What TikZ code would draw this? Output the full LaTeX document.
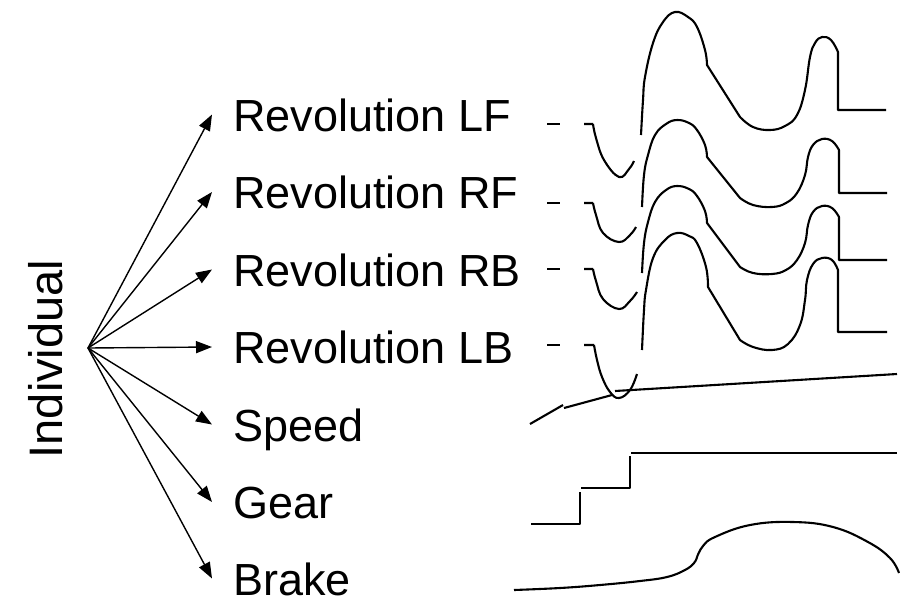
\documentclass[tikz,border=0pt]{standalone}
\usepackage{fontspec}
\setmainfont{Liberation Sans}
\usetikzlibrary{arrows.meta}
\begin{document}
\begin{tikzpicture}[x=1pt,y=-1pt,
  label/.style={anchor=base west,inner sep=0pt,outer xsep=21pt,
    text height=33pt,text depth=0pt,font=\fontsize{45}{50}\selectfont},
  arr/.style={line width=1.4pt,-{Triangle[length=16pt,width=12pt]}},
  sig/.style={line width=2.1pt,line join=round}]
\useasboundingbox (0,0) rectangle (907,598);

% vertical title and fan of arrows
\node[rotate=90,inner sep=0pt,font=\fontsize{47}{50}\selectfont] (ind) at (46,359) {Individual};
\coordinate (src) at (88,348);

\node[label] (lf) at (212,131) {Revolution LF};
\node[label] (rf) at (212,208.5) {Revolution RF};
\node[label] (rb) at (212,286) {Revolution RB};
\node[label] (lb) at (212,363.5) {Revolution LB};
\node[label] (sp) at (212,441) {Speed};
\node[label] (ge) at (212,518.5) {Gear};
\node[label] (br) at (212,595) {Brake};

\foreach \n in {lf,rf,rb,lb,sp,ge,br}
  \draw[arr] (src) -- (\n.west);

% revolution LF
\draw[sig] (547,124) -- (560,124);
\draw[sig] (584,124) -- (593,124) plot[smooth,tension=0.7] coordinates
  {(593,124) (596,138) (604,160) (619,177) (629,169) (634,161)};
\draw[sig] plot[smooth,tension=0.7] coordinates
  {(641,135) (643,100) (645,77) (653,43) (663,22) (675,12) (688,17) (697,27) (705,50) (707,65)}
  -- plot[smooth,tension=0.7] coordinates
  {(740,117) (753,127) (770,130) (785,126) (797,115) (805,90) (810,57) (815,43) (822,37) (831,40) (838,52)}
  -- (838,110) -- (886,110);

% revolution RF
\draw[sig] (547,203) -- (560,203);
\draw[sig] (584,203) -- (593,203) plot[smooth,tension=0.7] coordinates
  {(593,203) (596,215) (603,233) (619,242) (630,235) (636,227)};
\draw[sig] plot[smooth,tension=0.7] coordinates
  {(642,207) (644,175) (648,155) (655,135) (666,124) (677,120) (689,123) (697,130) (705,145) (707,157)}
  -- plot[smooth,tension=0.7] coordinates
  {(740,198) (753,205) (772,207) (786,203) (797,193) (805,175) (808,157) (813,145) (822,139) (832,141) (839,150)}
  -- (839,193) -- (887,193);

% revolution RB
\draw[sig] (547,269) -- (560,269);
\draw[sig] (584,269) -- (593,269) plot[smooth,tension=0.7] coordinates
  {(593,269) (596,281) (603,299) (619,309) (630,301) (637,292)};
\draw[sig] plot[smooth,tension=0.7] coordinates
  {(642,273) (644,243) (648,222) (655,202) (666,190) (677,186) (689,189) (697,196) (705,211) (707,223)}
  -- plot[smooth,tension=0.7] coordinates
  {(740,267) (753,273) (772,274) (786,270) (797,260) (805,243) (808,225) (813,212) (822,206) (832,208) (839,217)}
  -- (839,260) -- (887,260);

% revolution LB
\draw[sig] (547,345) -- (560,345);
\draw[sig] (584,345) -- (594,345) plot[smooth,tension=0.7] coordinates
  {(594,345) (597,360) (602,377) (610,392) (619,398) (630,390) (637,374)};
\draw[sig] plot[smooth,tension=0.7] coordinates
  {(642,350) (644,310) (646,290) (653,258) (665,240) (677,233) (689,236) (697,243) (706,267) (708,287)}
  -- plot[smooth,tension=0.7] coordinates
  {(740,340) (753,347) (772,350) (788,344) (800,325) (805,300) (807,280) (813,264) (822,258) (832,260) (838,270)}
  -- (838,332) -- (887,332);

% speed
\draw[sig] (530,424) -- (563,405);
\draw[sig] (564,408) -- (612,395);
\draw[sig] (615,391) -- (897,374);

% gear
\draw[sig] (531,524) -- (580,524) -- (580,492);
\draw[sig] (581,488) -- (630,488) -- (630,456);
\draw[sig] (631,453) -- (897,453);

% brake
\draw[sig] plot[smooth,tension=0.7] coordinates
  {(514,590) (560,588) (600,585) (640,581) (667,577) (685,570) (694,563) (697,557)};
\draw[sig] plot[smooth,tension=0.7] coordinates
  {(697,557) (703,546) (715,537) (750,525) (793,522) (833,527) (868,542) (890,558) (899,573)};
\end{tikzpicture}
\end{document}
